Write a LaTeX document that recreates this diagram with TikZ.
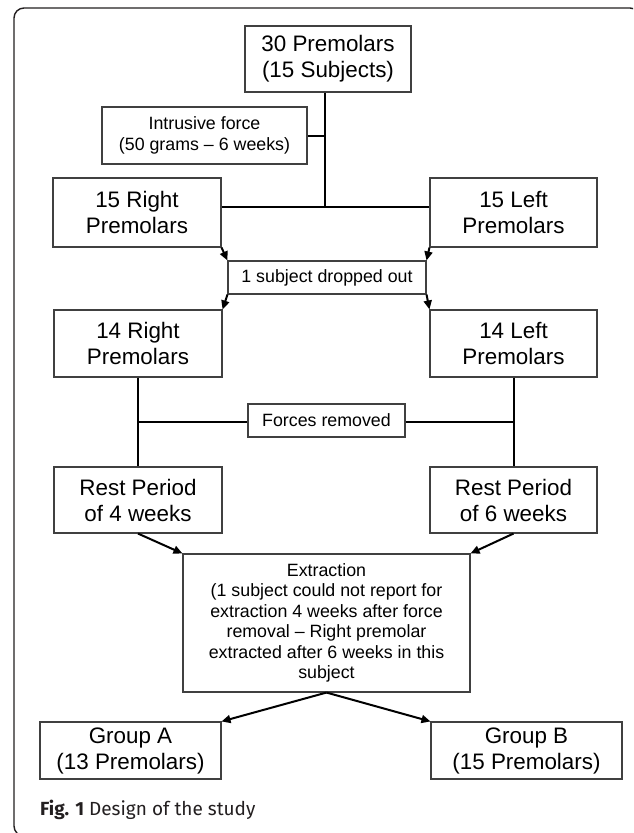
\documentclass[tikz,border=0pt]{standalone}
\usepackage{fontspec}
\setmainfont{Liberation Sans}
\newfontfamily\capfont{Fira Sans}
\usetikzlibrary{arrows.meta}
\definecolor{boxline}{HTML}{404040}
\definecolor{captxt}{HTML}{231F20}
\tikzset{
  bx/.style={draw=boxline, line width=1.1pt, inner sep=0pt, align=center},
  big/.style={bx, font=\fontsize{22.4}{26}\selectfont},
  small/.style={bx, font=\fontsize{17.8}{20.5}\selectfont},
  conn/.style={draw=black, line width=2pt},
  arr/.style={conn, -{Triangle[length=9pt,width=8pt]}, shorten <=0pt},
}
\begin{document}
\begin{tikzpicture}[x=1pt,y=-1pt]
\useasboundingbox (0,0) rectangle (633,833);
\fill[white] (0,0) rectangle (633,833);
\begin{scope}
\clip (0,0) rectangle (633,833);
\draw[line width=1.4pt, draw=captxt, rounded corners=10pt] (14,8) rectangle (640,836);
\end{scope}

\node[big, minimum width=166pt, minimum height=66pt] (top) at (328,59) {30 Premolars\\(15 Subjects)};
\node[small, minimum width=205pt, minimum height=57pt] (intr) at (204.5,135.5) {Intrusive force\\(50 grams -- 6 weeks)};
\node[big, minimum width=168pt, minimum height=69pt] (r15) at (137,212.5) {15 Right\\Premolars};
\node[big, minimum width=167pt, minimum height=69pt] (l15) at (513.5,212.5) {15 Left\\Premolars};
\node[small, minimum width=198pt, minimum height=33pt] (drop) at (327,277.5) {1 subject dropped out};
\node[big, minimum width=168pt, minimum height=67pt] (r14) at (138,343.5) {14 Right\\Premolars};
\node[big, minimum width=167pt, minimum height=67pt] (l14) at (513.5,343.5) {14 Left\\Premolars};
\node[small, minimum width=157pt, minimum height=33pt] (forces) at (326.5,420.5) {Forces removed};
\node[big, minimum width=168pt, minimum height=66pt] (rest4) at (138,500) {Rest Period\\of 4 weeks};
\node[big, minimum width=167pt, minimum height=66pt] (rest6) at (513.5,500) {Rest Period\\of 6 weeks};
\node[small, minimum width=287pt, minimum height=138pt] (ext) at (326.5,623) {Extraction\\(1 subject could not report for\\extraction 4 weeks after force\\removal -- Right premolar\\extracted after 6 weeks in this\\subject};
\node[big, minimum width=181pt, minimum height=57pt] (ga) at (130.5,750.5) {Group A\\(13 Premolars)};
\node[big, minimum width=191pt, minimum height=57pt] (gb) at (526.5,750.5) {Group B\\(15 Premolars)};

\coordinate (j1) at (325,207);
\coordinate (j2) at (326,422);

\draw[conn] (top.south -| j1) -- (j1);
\draw[conn] (intr.east -| j1) -- (intr.east);
\draw[conn] (r15.east |- j1) -- (l15.west |- j1);

\draw[arr] (r15.south east) -- (drop.north west);
\draw[arr] (l15.south west) -- (drop.north east);
\draw[arr] (drop.south west) -- (r14.north east);
\draw[arr] (drop.south east) -- (l14.north west);

\draw[conn] (r14.south) -- (rest4.north);
\draw[conn] (l14.south) -- (rest6.north);
\draw[conn] (r14.south |- j2) -- (forces.west |- j2);
\draw[conn] (forces.east |- j2) -- (l14.south |- j2);

\draw[arr] (rest4.south) -- (ext.north west);
\draw[arr] (rest6.south) -- (ext.north east);
\draw[arr] (ext.south) -- (ga.north east);
\draw[arr] (ext.south) -- (gb.north west);

\node[anchor=base west, inner sep=0pt, text=captxt, font=\capfont\fontsize{19}{22}\selectfont] (cap) at (40,815) {\textbf{Fig. 1} Design of the study};
\end{tikzpicture}
\end{document}
